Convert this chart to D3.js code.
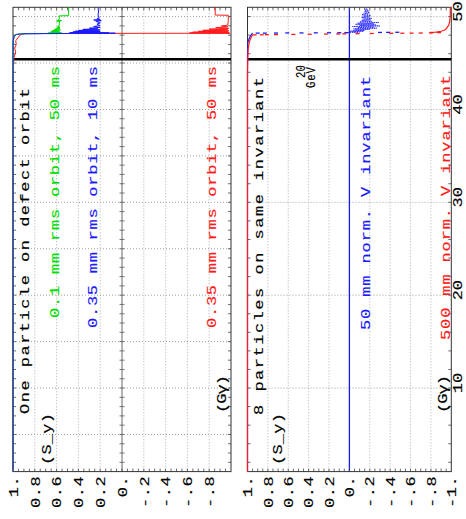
<!DOCTYPE html>
<html>
<head>
<meta charset="utf-8">
<script src="https://cdn.jsdelivr.net/npm/d3@7"></script>
<style>
  html, body { margin: 0; padding: 0; background: #fff; }
  svg { display: block; }
</style>
</head>
<body>
<svg id="chart" width="466" height="519"></svg>
<script>
// ---- axes ----------------------------------------------------------
const gammaDomain = [1, 51];                 // Gγ range (drawn bottom -> top)
const gammaTicks = [10, 20, 30, 40, 50];
const gammaTickLabels = ["10", "20", "30", "40", "50"];
const syDomain = [1, -1];                    // S_y range (drawn left -> right)
const syTicks = [1, 0.8, 0.6, 0.4, 0.2, 0, -0.2, -0.4, -0.6, -0.8, -1];
const syTickLabels = ["1.", "0.8", "0.6", "0.4", "0.2", "0.", "-.2", "-.4", "-.6", "-.8", "-1."];
const energyMarkGamma = 45.4;                // 20 GeV marker

// ---- one particle on defect orbit: [Gγ, S_y] ------------------------
const orbit01mm50ms = [
  [1, 1], [46, 1], [47.2, 0.998], [47.8, 0.99], [48.05, 0.975], [48.15, 0.93],
  [48.19, 0.62], [48.21, 0.55], [48.23, 0.68], [48.26, 0.56], [48.3, 0.66],
  [48.34, 0.57], [48.39, 0.65], [48.44, 0.58], [48.5, 0.64], [48.56, 0.565],
  [48.63, 0.62], [48.7, 0.57], [48.78, 0.6], [48.86, 0.57], [48.95, 0.59],
  [49.05, 0.575], [49.3, 0.575], [49.45, 0.57], [49.52, 0.6], [49.56, 0.555],
  [49.6, 0.59], [49.7, 0.575], [50.08, 0.575], [50.1, 0.49], [51, 0.49]
];
const orbit035mm10ms = [
  [1, 1], [46, 1], [47.4, 0.998], [47.9, 0.99], [48.08, 0.97], [48.15, 0.9],
  [48.19, 0.35], [48.21, 0.06], [48.23, 0.3], [48.25, 0.12], [48.28, 0.48],
  [48.31, 0.22], [48.35, 0.45], [48.38, 0.2], [48.42, 0.43], [48.46, 0.21],
  [48.51, 0.4], [48.56, 0.2], [48.62, 0.36], [48.68, 0.22], [48.75, 0.3],
  [48.83, 0.2], [48.93, 0.26], [49.03, 0.2], [49.18, 0.23], [49.33, 0.2],
  [49.48, 0.24], [49.56, 0.19], [49.63, 0.26], [49.7, 0.2], [49.78, 0.23],
  [49.88, 0.21], [50.2, 0.22], [50.5, 0.215], [51, 0.22]
];
const orbit035mm50ms = [
  [1, 1], [40, 1], [44.5, 0.998], [45.6, 0.99], [46.2, 0.975], [46.6, 0.985],
  [47.0, 0.97], [47.4, 0.975], [47.7, 0.955], [47.95, 0.94], [48.1, 0.92],
  [48.17, 0.88], [48.19, 0.3], [48.21, -0.99], [48.24, -0.62], [48.28, -0.98],
  [48.32, -0.65], [48.36, -0.97], [48.41, -0.7], [48.46, -0.98], [48.52, -0.74],
  [48.58, -0.97], [48.65, -0.8], [48.73, -0.98], [48.81, -0.86], [48.9, -0.97],
  [48.98, -0.91], [49.08, -0.97], [49.5, -0.975], [50.14, -0.975],
  [50.17, -0.855], [51, -0.855]
];

// ---- 8 particles on same invariant: [Gγ, S_y] -----------------------
const inv50mmBefore = [
  [1, 1], [46, 1], [47.2, 0.997], [47.6, 0.985], [47.9, 0.972], [48.1, 0.96], [48.2, 0.95]
];
const inv50mmCrossing = [
  [48.22, 0.9], [48.22, 0.83], [48.23, 0.72], [48.24, 0.61], [48.24, 0.47],
  [48.25, 0.33], [48.26, 0.2], [48.26, 0.1], [48.27, 0.03], [48.29, -0.3],
  [48.3, -0.38], [48.31, -0.47]
];
const inv50mmAfter = [
  [48.27, 0.02], [48.32, -0.1], [48.37, 0.0], [48.42, -0.14], [48.47, -0.02],
  [48.52, -0.15], [48.57, -0.05], [48.63, -0.2], [48.69, -0.04], [48.75, -0.27],
  [48.81, -0.08], [48.87, -0.24], [48.93, -0.03], [48.99, -0.3], [49.05, -0.1],
  [49.11, -0.26], [49.17, -0.06], [49.23, -0.24], [49.29, -0.08], [49.36, -0.29],
  [49.43, -0.1], [49.5, -0.22], [49.57, -0.12], [49.65, -0.21], [49.73, -0.13],
  [49.81, -0.22], [49.89, -0.12], [49.97, -0.2], [50.05, -0.13], [50.13, -0.21],
  [50.21, -0.12], [50.29, -0.19], [50.37, -0.14], [50.45, -0.2], [50.53, -0.15],
  [50.61, -0.19], [50.69, -0.15], [50.77, -0.18], [50.85, -0.16], [50.93, -0.17]
];
const inv500mmBefore = [
  [1, 1], [44, 1], [45.5, 0.997], [46.5, 0.993], [47.1, 0.985], [47.5, 0.975],
  [47.8, 0.963], [47.95, 0.955], [48.05, 0.945]
];
const inv500mmCrossing = [
  [48.03, 0.93], [48.04, 0.86], [48.05, 0.81], [48.06, 0.72], [48.08, 0.55],
  [48.1, 0.39], [48.12, 0.23], [48.13, 0.11], [48.14, 0.05], [48.16, -0.08],
  [48.18, -0.22], [48.2, -0.41], [48.21, -0.52], [48.22, -0.61], [48.23, -0.7],
  [48.25, -0.8], [48.27, -0.88]
];
const inv500mmAfter = [
  [48.28, -0.79], [48.33, -0.85], [48.42, -0.9], [48.56, -0.935], [48.75, -0.955],
  [49.1, -0.976], [49.5, -0.985], [50.2, -0.99], [51, -0.99]
];

// ---- drawing -------------------------------------------------------
const FONT = "'Liberation Mono', 'DejaVu Sans Mono', monospace";
const FS = 12.6;          // font size
const ST = 1.35;          // glyph stretch along the reading direction
const TW = 0.15;          // extra stroke to thicken glyphs
const RED = "#ff1a1a", GREEN = "#00dd00", BLUE = "#1a1aff";

const svg = d3.select("#chart");
const y = d3.scaleLinear().domain(gammaDomain).range([471.6, 7.3]);

const panels = [
  { x: d3.scaleLinear().domain(syDomain).range([13, 231]), gridStep: 5, minorStep: 1,
    zeroColor: "#666", zeroTicks: true, labels: syTicks.slice(0, -1) },
  { x: d3.scaleLinear().domain(syDomain).range([247.5, 451.3]), gridStep: 10, minorStep: 2,
    zeroColor: BLUE, zeroTicks: false, labels: syTicks }
];

// vertical text reading bottom -> top; (bx, by) = baseline x, start y
function vtext(g, str, bx, by, o) {
  const st = o.stretch || ST;
  const fill = o.fill || "#000";
  const t = g.append("text")
    .attr("transform", `translate(${bx},${by}) rotate(-90) scale(${st},1)`)
    .attr("font-family", FONT)
    .attr("font-size", o.size || FS)
    .attr("fill", fill)
    .attr("stroke", fill).attr("stroke-width", TW)
    .attr("text-anchor", o.anchor || "start")
    .text(str);
  if (o.len) t.attr("textLength", o.len / st).attr("lengthAdjust", "spacing");
  return t;
}

const lineGen = x => d3.line().x(d => x(d[1])).y(d => y(d[0]));

panels.forEach(p => {
  const g = svg.append("g");
  const [xl, xr] = p.x.range();
  const [yb, yt] = y.range();

  // dotted grid
  const gridG = d3.range(p.gridStep, 51, p.gridStep);
  g.selectAll(null).data(gridG).join("line")
    .attr("x1", xl).attr("x2", xr).attr("y1", d => y(d)).attr("y2", d => y(d))
    .attr("stroke", "#8a8a8a").attr("stroke-width", 0.8).attr("stroke-dasharray", "1,2");
  g.selectAll(null).data(syTicks.filter(v => v !== 0 && Math.abs(v) !== 1)).join("line")
    .attr("x1", d => p.x(d)).attr("x2", d => p.x(d)).attr("y1", yt).attr("y2", yb)
    .attr("stroke", "#9a9a9a").attr("stroke-width", 0.8).attr("stroke-dasharray", "1,2");

  // zero line
  g.append("line").attr("x1", p.x(0)).attr("x2", p.x(0)).attr("y1", yt).attr("y2", yb)
    .attr("stroke", p.zeroColor).attr("stroke-width", p.zeroTicks ? 1 : 1.3);
  const minorG = d3.range(gammaDomain[0] + (p.minorStep === 2 ? 1 : 0), 51, p.minorStep).filter(v => v > 1);
  if (p.zeroTicks) {
    g.selectAll(null).data(minorG).join("line")
      .attr("x1", p.x(0) - 2.5).attr("x2", p.x(0) + 2.5)
      .attr("y1", d => y(d)).attr("y2", d => y(d))
      .attr("stroke", "#555").attr("stroke-width", 0.8);
  }

  // frame ticks
  g.selectAll(null).data(minorG).join("line")
    .attr("x1", xl).attr("x2", xl + 3).attr("y1", d => y(d)).attr("y2", d => y(d))
    .attr("stroke", "#444").attr("stroke-width", 0.8);
  g.selectAll(null).data(minorG).join("line")
    .attr("x1", xr - 3).attr("x2", xr).attr("y1", d => y(d)).attr("y2", d => y(d))
    .attr("stroke", "#444").attr("stroke-width", 0.8);
  const minorS = d3.range(-19, 20).map(i => i / 20);
  g.selectAll(null).data(minorS).join("line")
    .attr("x1", d => p.x(d)).attr("x2", d => p.x(d)).attr("y1", yb).attr("y2", yb - 3)
    .attr("stroke", "#444").attr("stroke-width", 0.8);
  g.selectAll(null).data(minorS).join("line")
    .attr("x1", d => p.x(d)).attr("x2", d => p.x(d)).attr("y1", yt).attr("y2", yt + 3)
    .attr("stroke", "#444").attr("stroke-width", 0.8);

  // frame
  g.append("rect").attr("x", xl).attr("y", yt).attr("width", xr - xl).attr("height", yb - yt)
    .attr("fill", "none").attr("stroke", "#333").attr("stroke-width", 1);

  // S_y tick labels along the bottom
  const ax = g.append("g").attr("transform", `translate(0,${yb})`)
    .call(d3.axisBottom(p.x).tickValues(p.labels)
      .tickFormat(d => syTickLabels[syTicks.indexOf(d)]).tickSize(0));
  ax.select(".domain").remove();
  ax.selectAll("text")
    .attr("transform", `rotate(-90) scale(${ST},1)`)
    .attr("x", -4 / ST).attr("y", 4.2).attr("dy", null)
    .attr("text-anchor", "end")
    .attr("font-family", FONT).attr("font-size", FS)
    .attr("letter-spacing", 0.45).attr("fill", "#000")
    .attr("stroke", "#000").attr("stroke-width", TW);

  p.g = g;
  p.line = lineGen(p.x);
});

// 20 GeV marker
panels.forEach(p => {
  const [xl, xr] = p.x.range();
  p.g.append("line").attr("x1", xl).attr("x2", xr)
    .attr("y1", y(energyMarkGamma)).attr("y2", y(energyMarkGamma))
    .attr("stroke", "#000").attr("stroke-width", 2.5);
});

// Gγ tick labels at the right
const gx = svg.append("g").attr("transform", `translate(451.3,0)`)
  .call(d3.axisRight(y).tickValues(gammaTicks)
    .tickFormat(d => gammaTickLabels[gammaTicks.indexOf(d)]).tickSize(0));
gx.select(".domain").remove();
gx.selectAll("text")
  .attr("transform", `rotate(-90) scale(${ST},1)`)
  .attr("x", 5.5 / ST).attr("y", 10.7).attr("dy", null)
  .attr("text-anchor", "middle")
  .attr("font-family", FONT).attr("font-size", FS)
  .attr("fill", "#000").attr("stroke", "#000").attr("stroke-width", TW);

// ---- series ----
const L = panels[0], R = panels[1];
const drawPath = (p, data, color, w, dash) => {
  const path = p.g.append("path").datum(data).attr("d", p.line)
    .attr("fill", "none").attr("stroke", color).attr("stroke-width", w)
    .attr("stroke-linejoin", "round");
  if (dash) path.attr("stroke-dasharray", dash);
};
const drawDots = (p, data, color) => {
  p.g.selectAll(null).data(data).join("line")
    .attr("x1", d => p.x(d[1]) - 2).attr("x2", d => p.x(d[1]) + 2)
    .attr("y1", d => y(d[0])).attr("y2", d => y(d[0]))
    .attr("stroke", color).attr("stroke-width", 1.3);
};

drawPath(L, orbit035mm50ms, RED, 1);
drawPath(L, orbit01mm50ms, GREEN, 1);
drawPath(L, orbit035mm10ms, BLUE, 1);

drawPath(R, inv50mmBefore, BLUE, 1.2);
drawDots(R, inv50mmCrossing, BLUE);
drawPath(R, inv50mmAfter, BLUE, 0.8, "1.5,0.8");
drawPath(R, inv500mmBefore, RED, 1.2);
drawDots(R, inv500mmCrossing, RED);
drawPath(R, inv500mmAfter, RED, 1.2);

// ---- annotations ----
const T = svg.append("g");
vtext(T, "One particle on defect orbit", 28.5, 414, { len: 326 });
vtext(T, "0.1 mm rms orbit, 50 ms", 59, 318, { fill: GREEN, len: 252 });
vtext(T, "0.35 mm rms orbit, 10 ms", 97, 328, { fill: BLUE, len: 262 });
vtext(T, "0.35 mm rms orbit, 50 ms", 216, 328, { fill: RED, len: 262 });
vtext(T, "(S_y)", 50.5, 465, { len: 52 });
vtext(T, "(Gγ)", 226, 413, { len: 38 });

vtext(T, "8 particles on same invariant", 263, 415, { len: 338 });
vtext(T, "20", 305, 78, { stretch: 0.85, len: 13 });
vtext(T, "GeV", 315, 88, { stretch: 0.85, len: 21 });
vtext(T, "50 mm norm. V invariant", 370, 330, { fill: BLUE, len: 254 });
vtext(T, "500 mm norm. V invariant", 450, 340, { fill: RED, len: 265 });
vtext(T, "(S_y)", 281.5, 465, { len: 52 });
vtext(T, "(Gγ)", 447, 413, { len: 38 });
</script>
</body>
</html>
